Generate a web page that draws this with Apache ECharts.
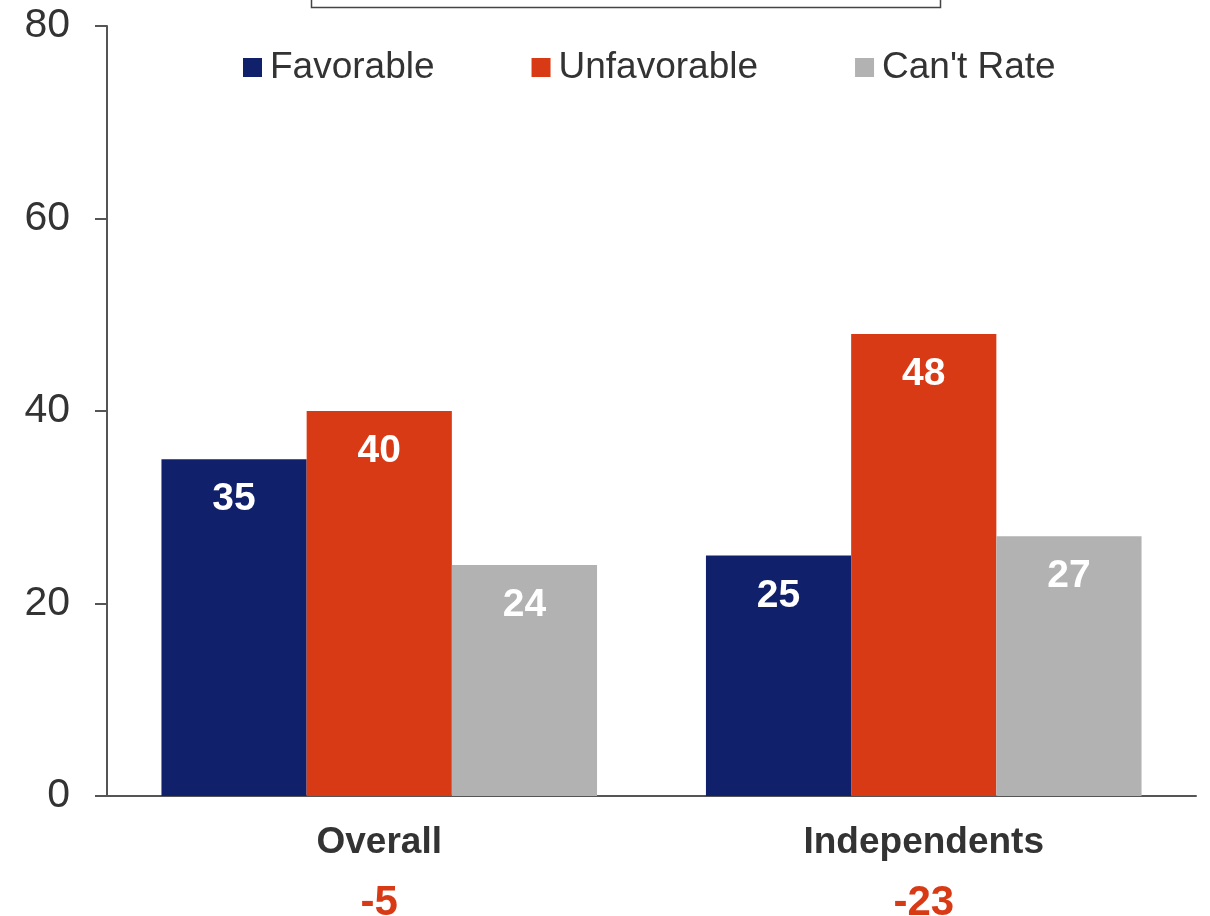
<!DOCTYPE html>
<html>
<head>
<meta charset="utf-8">
<script src="https://cdn.jsdelivr.net/npm/echarts@6/dist/echarts.min.js"></script>
<style>
  html, body { margin: 0; padding: 0; background: #fff; }
  #chart { width: 1210px; height: 916px; }
</style>
</head>
<body>
<div id="chart"></div>
<script>
var categories = ["Overall", "Independents"];
var netValues = ["-5", "-23"];
var favorable = [35, 25];
var unfavorable = [40, 48];
var cantRate = [24, 27];
var yTicks = [0, 20, 40, 60, 80];

var font = "Liberation Sans, Arial, sans-serif";
var myChart = echarts.init(document.getElementById("chart"));

var barLabel = {
  show: true,
  position: "insideTop",
  distance: 21,
  color: "#fff",
  fontWeight: "bold",
  fontSize: 39,
  fontFamily: font
};

var option = {
  color: ["#10206A", "#D93A16", "#B2B2B2"],
  animation: false,
  graphic: [{
    type: "rect",
    shape: { x: 311.5, y: -20, width: 629, height: 27.5 },
    style: { fill: "#fff", stroke: "#444", lineWidth: 1.5 }
  }],
  legend: {
    left: 238,
    top: 44,
    itemWidth: 19,
    itemHeight: 19,
    itemGap: 97,
    icon: "rect",
    textStyle: { fontSize: 37, color: "#333", fontFamily: font, padding: [0, 0, 0, 3] }
  },
  grid: { left: 107, right: 14, top: 26, bottom: 120, outerBoundsMode: "none", containLabel: false },
  xAxis: {
    type: "category",
    data: categories,
    axisTick: { show: false },
    axisLine: { lineStyle: { color: "#555", width: 2 } },
    axisLabel: {
      margin: 17,
      formatter: function (val, i) {
        return "{a|" + val + "}\n{b|" + netValues[i] + "}";
      },
      rich: {
        a: { fontSize: 37, fontWeight: "bold", color: "#333", lineHeight: 60, fontFamily: font },
        b: { fontSize: 42, fontWeight: "bold", color: "#D93A16", lineHeight: 60, fontFamily: font }
      }
    }
  },
  yAxis: {
    type: "value",
    min: yTicks[0],
    max: yTicks[yTicks.length - 1],
    interval: 20,
    splitLine: { show: false },
    axisLine: { show: true, lineStyle: { color: "#555", width: 2 } },
    axisTick: { show: true, length: 12, lineStyle: { color: "#555", width: 2 } },
    axisLabel: { fontSize: 41, color: "#333", margin: 37, fontFamily: font }
  },
  series: [
    { name: "Favorable", type: "bar", data: favorable, barGap: "0%", barCategoryGap: "20%", label: barLabel },
    { name: "Unfavorable", type: "bar", data: unfavorable, barGap: "0%", barCategoryGap: "20%", label: barLabel },
    { name: "Can't Rate", type: "bar", data: cantRate, barGap: "0%", barCategoryGap: "20%", label: barLabel }
  ]
};

myChart.setOption(option);
</script>
</body>
</html>
